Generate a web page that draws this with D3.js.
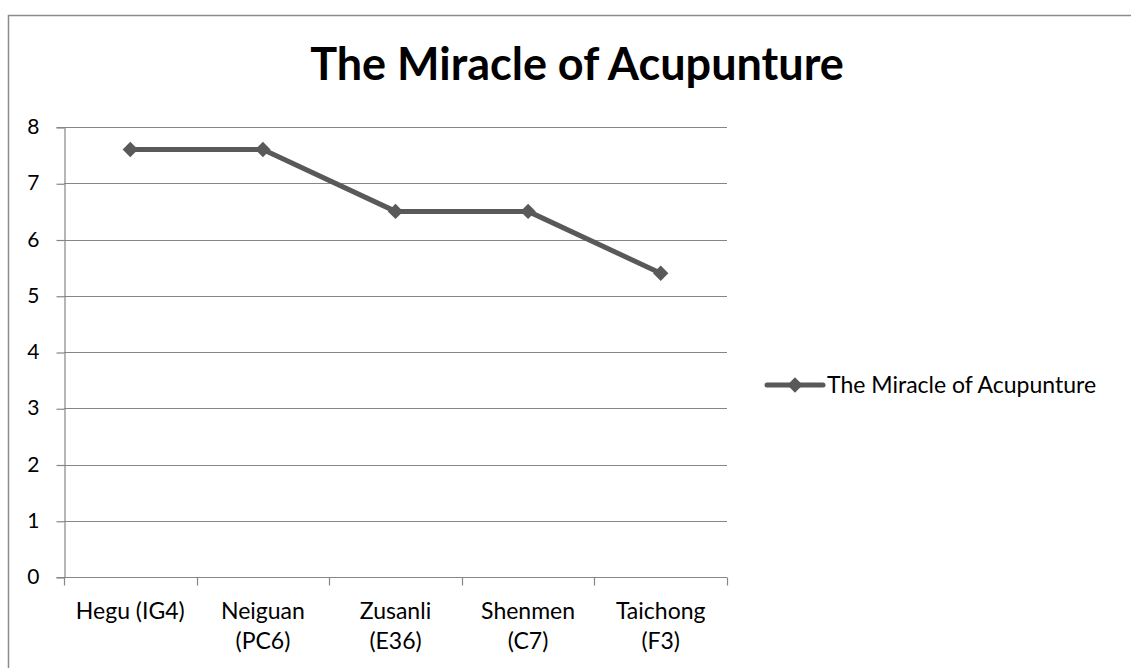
<!DOCTYPE html>
<html>
<head>
<meta charset="utf-8">
<script src="https://cdn.jsdelivr.net/npm/d3@7"></script>
<style>
  body { margin: 0; background: #fff; }
  text { font-family: Lato, "Open Sans", sans-serif; fill: #000; }
</style>
</head>
<body>
<div id="vis"></div>
<script>
// chart data
var categories = ["Hegu (IG4)", "Neiguan (PC6)", "Zusanli (E36)", "Shenmen (C7)", "Taichong (F3)"];
var labelLines = [["Hegu (IG4)"], ["Neiguan", "(PC6)"], ["Zusanli", "(E36)"], ["Shenmen", "(C7)"], ["Taichong", "(F3)"]];
var values = [7.6, 7.6, 6.5, 6.5, 5.4];
var yTicks = [0, 1, 2, 3, 4, 5, 6, 7, 8];
var seriesName = "The Miracle of Acupunture";
var chartTitle = "The Miracle of Acupunture";

var width = 1131, height = 668;
var plot = { left: 64, right: 727, top: 127, bottom: 577 };
var lineColor = "#595959";
var gridColor = "#868686";

var svg = d3.select("#vis").append("svg")
  .attr("width", width)
  .attr("height", height);

// outer chart border (runs off the right and bottom edge)
svg.append("rect")
  .attr("x", 8.5).attr("y", 15.5)
  .attr("width", width + 20).attr("height", height + 20)
  .attr("fill", "none")
  .attr("stroke", "#8c8c8c")
  .attr("stroke-width", 1.5);

var x = d3.scaleBand()
  .domain(categories)
  .range([plot.left, plot.right]);

var y = d3.scaleLinear()
  .domain([0, 8])
  .range([plot.bottom, plot.top]);

// gridlines
svg.append("g").selectAll("line")
  .data(yTicks.filter(function(d){ return d > 0; }))
  .enter().append("line")
  .attr("x1", plot.left).attr("x2", plot.right)
  .attr("y1", function(d){ return Math.round(y(d)) + 0.5; })
  .attr("y2", function(d){ return Math.round(y(d)) + 0.5; })
  .attr("stroke", gridColor)
  .attr("stroke-width", 1.2);

// y axis
var yAxis = svg.append("g")
  .attr("transform", "translate(" + (plot.left + 0.5) + ",0)")
  .call(d3.axisLeft(y).tickValues(yTicks).tickSize(8).tickPadding(17).tickFormat(d3.format("d")));
yAxis.select(".domain").attr("stroke", gridColor).attr("stroke-width", 1.2);
yAxis.selectAll(".tick line").attr("stroke", gridColor).attr("stroke-width", 1.2)
  .attr("transform", "translate(0,0.5)");
yAxis.selectAll(".tick text")
  .attr("font-size", 21)
  .attr("font-family", "Lato, 'Open Sans', sans-serif")
  .attr("fill", "#000");

// x axis
var xAxis = svg.append("g")
  .attr("transform", "translate(0," + (Math.round(plot.bottom) + 0.5) + ")");
xAxis.append("line")
  .attr("x1", plot.left).attr("x2", plot.right)
  .attr("stroke", gridColor).attr("stroke-width", 1.2);
var xEdges = categories.map(function(c){ return x(c); }).concat([plot.right]);
xAxis.selectAll("line.tick")
  .data(xEdges)
  .enter().append("line")
  .attr("class", "tick")
  .attr("x1", function(d){ return Math.round(d) + 0.5; })
  .attr("x2", function(d){ return Math.round(d) + 0.5; })
  .attr("y1", 0).attr("y2", 8)
  .attr("stroke", gridColor).attr("stroke-width", 1.2);

var xLabels = xAxis.selectAll("text.xl")
  .data(categories)
  .enter().append("text")
  .attr("class", "xl")
  .attr("text-anchor", "middle")
  .attr("font-size", 23)
  .attr("x", function(d){ return x(d) + x.bandwidth() / 2; })
  .attr("y", 41);
xLabels.each(function(d, i){
  var t = d3.select(this);
  labelLines[i].forEach(function(line, j){
    t.append("tspan")
      .attr("x", x(d) + x.bandwidth() / 2)
      .attr("dy", j === 0 ? 0 : 30)
      .text(line);
  });
});

// line
var line = d3.line()
  .x(function(d, i){ return x(categories[i]) + x.bandwidth() / 2; })
  .y(function(d){ return y(d); });

svg.append("path")
  .datum(values)
  .attr("d", line)
  .attr("fill", "none")
  .attr("stroke", lineColor)
  .attr("stroke-width", 5)
  .attr("stroke-linejoin", "round");

var diamond = d3.symbol().type(d3.symbolDiamond2).size(150);
svg.append("g").selectAll("path")
  .data(values)
  .enter().append("path")
  .attr("d", diamond)
  .attr("transform", function(d, i){
    return "translate(" + (x(categories[i]) + x.bandwidth() / 2) + "," + y(d) + ")";
  })
  .attr("fill", lineColor);

// title, centred on the whole chart area
svg.append("text")
  .attr("x", 577)
  .attr("y", 80)
  .attr("text-anchor", "middle")
  .attr("font-size", 45)
  .attr("font-weight", "bold")
  .text(chartTitle);

// legend
var legend = svg.append("g").attr("transform", "translate(767,385)");
legend.append("line")
  .attr("x1", 0).attr("x2", 56)
  .attr("stroke", lineColor)
  .attr("stroke-width", 5)
  .attr("stroke-linecap", "round");
legend.append("path")
  .attr("d", diamond)
  .attr("transform", "translate(28,0)")
  .attr("fill", lineColor);
legend.append("text")
  .attr("x", 60)
  .attr("y", 8)
  .attr("font-size", 23)
  .text(seriesName);
</script>
</body>
</html>
